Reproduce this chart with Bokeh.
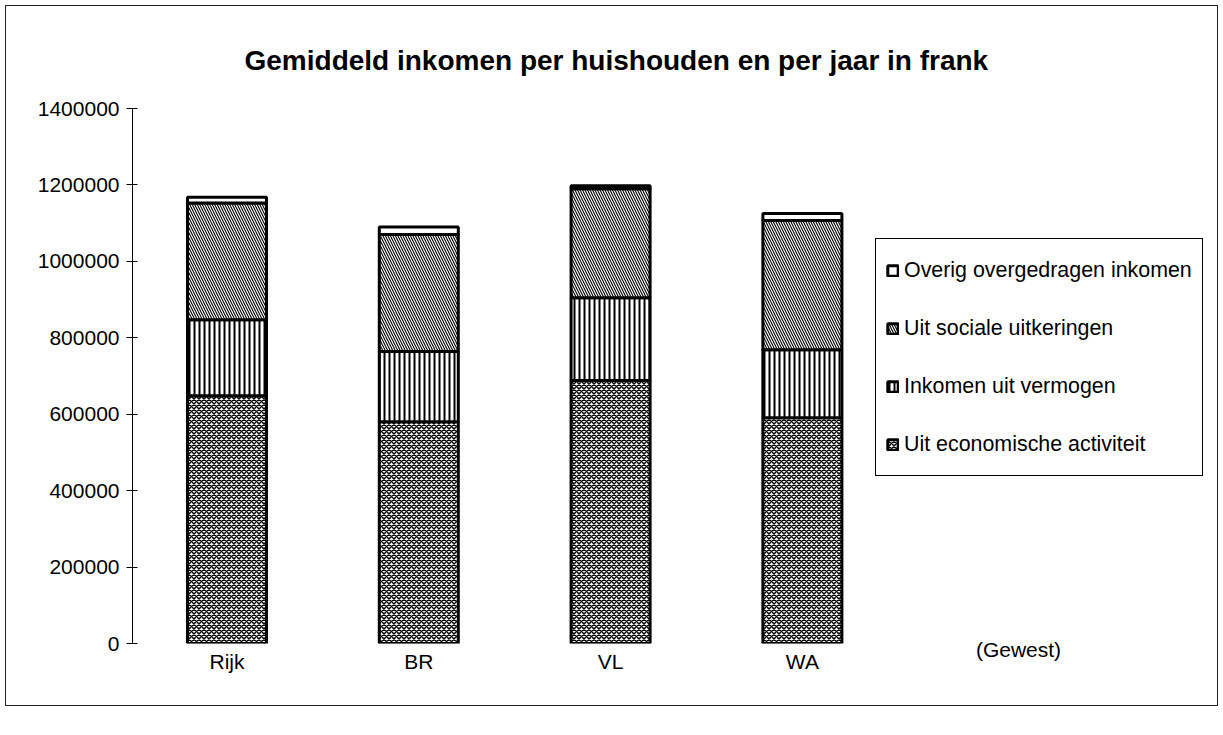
from bokeh.plotting import figure
from bokeh.models import FixedTicker, Legend, LegendItem, LinearAxis, Range1d
from bokeh.embed import file_html
from bokeh.resources import INLINE

# ---- data ----
categories = ["Rijk", "BR", "VL", "WA"]
economisch = [648000, 580000, 688000, 591000]
vermogen = [199000, 184000, 217000, 178000]
sociaal = [306000, 306000, 285000, 338000]
overig = [15000, 20000, 8000, 18000]
series_names = ["Uit economische activiteit", "Inkomen uit vermogen",
                "Uit sociale uitkeringen", "Overig overgedragen inkomen"]
yticks = [0, 200000, 400000, 600000, 800000, 1000000, 1200000, 1400000]
ytick_labels = ["0", "200000", "400000", "600000", "800000", "1000000", "1200000", "1400000"]
title_text = "Gemiddeld inkomen per huishouden en per jaar in frank"
x_title = "(Gewest)"

FONT = "Liberation Sans"

xs = [i + 0.5 for i in range(len(categories))]
series = [economisch, vermogen, sociaal, overig]
bottoms = []
tops = []
acc = [0] * len(categories)
for s in series:
    bottoms.append(list(acc))
    acc = [a + v for a, v in zip(acc, s)]
    tops.append(list(acc))

p = figure(width=1213, height=701, output_backend="svg", toolbar_location=None,
           x_range=Range1d(0.0073, 5.607), y_range=Range1d(0, 1400000),
           min_border_left=126, min_border_right=13, min_border_top=102,
           min_border_bottom=64, title=title_text)
p.margin = (5, 0, 0, 5)
p.styles = {"border": "1px solid #222"}
p.outline_line_color = None
p.xgrid.visible = False
p.ygrid.visible = False
p.background_fill_color = "white"

p.title.text_font = FONT
p.title.text_font_size = "28px"
p.title.text_font_style = "bold"
p.title.text_color = "black"
p.title.align = "left"
p.title.offset = 112
p.title.standoff = 66

# y axis
p.yaxis.ticker = FixedTicker(ticks=yticks)
p.yaxis.major_label_overrides = {t: l for t, l in zip(yticks, ytick_labels)}
p.yaxis.major_tick_in = 5
p.yaxis.major_tick_out = 6
p.yaxis.minor_tick_line_color = None
p.yaxis.axis_line_color = "black"
p.yaxis.major_tick_line_color = "black"
p.yaxis.major_label_text_font = FONT
p.yaxis.major_label_text_font_size = "21px"
p.yaxis.major_label_text_color = "black"
p.yaxis.major_label_standoff = 7

# x axis (categories)
p.xaxis.ticker = FixedTicker(ticks=xs)
p.xaxis.major_label_overrides = {x: c for x, c in zip(xs, categories)}
p.xaxis.axis_line_color = None
p.xaxis.major_tick_line_color = None
p.xaxis.minor_tick_line_color = None
p.xaxis.major_tick_in = 0
p.xaxis.major_tick_out = 0
p.xaxis.major_label_standoff = 6
p.xaxis.major_label_text_font = FONT
p.xaxis.major_label_text_font_size = "21px"
p.xaxis.major_label_text_color = "black"

# axis title "(Gewest)" shown as a label on a second, line-less axis
gx = 4.627
gaxis = LinearAxis(ticker=FixedTicker(ticks=[gx]), major_label_overrides={gx: x_title},
                   axis_line_color=None, major_tick_line_color=None,
                   minor_tick_line_color=None, major_tick_in=0, major_tick_out=0,
                   major_label_standoff=-38, major_label_text_font=FONT,
                   major_label_text_font_size="21px", major_label_text_color="black")
p.add_layout(gaxis, "below")

styles = [
    dict(hatch_pattern="x", hatch_scale=5, hatch_weight=1.5),
    dict(hatch_pattern="vertical_line", hatch_scale=5, hatch_weight=2),
    dict(hatch_pattern="left_diagonal_line", hatch_scale=5, hatch_weight=1.1),
    dict(),
]
renderers = []
for b, t, st in zip(bottoms, tops, styles):
    r = p.vbar(x=xs, width=0.412, bottom=b, top=t, fill_color="white",
               line_color="black", line_width=3, hatch_color="black", **st)
    renderers.append(r)

items = [LegendItem(label=series_names[i], renderers=[renderers[i]]) for i in [3, 2, 1, 0]]
legend = Legend(items=items, location=(743, 167), padding=10, spacing=16,
                label_height=42, glyph_width=13, glyph_height=13, label_standoff=5,
                border_line_color="black", border_line_width=1, border_line_alpha=1,
                background_fill_color="white", background_fill_alpha=1,
                label_text_font=FONT, label_text_font_size="21.4px",
                label_text_color="black", margin=0)
p.add_layout(legend)

open("out.html", "w").write(file_html(p, INLINE))
